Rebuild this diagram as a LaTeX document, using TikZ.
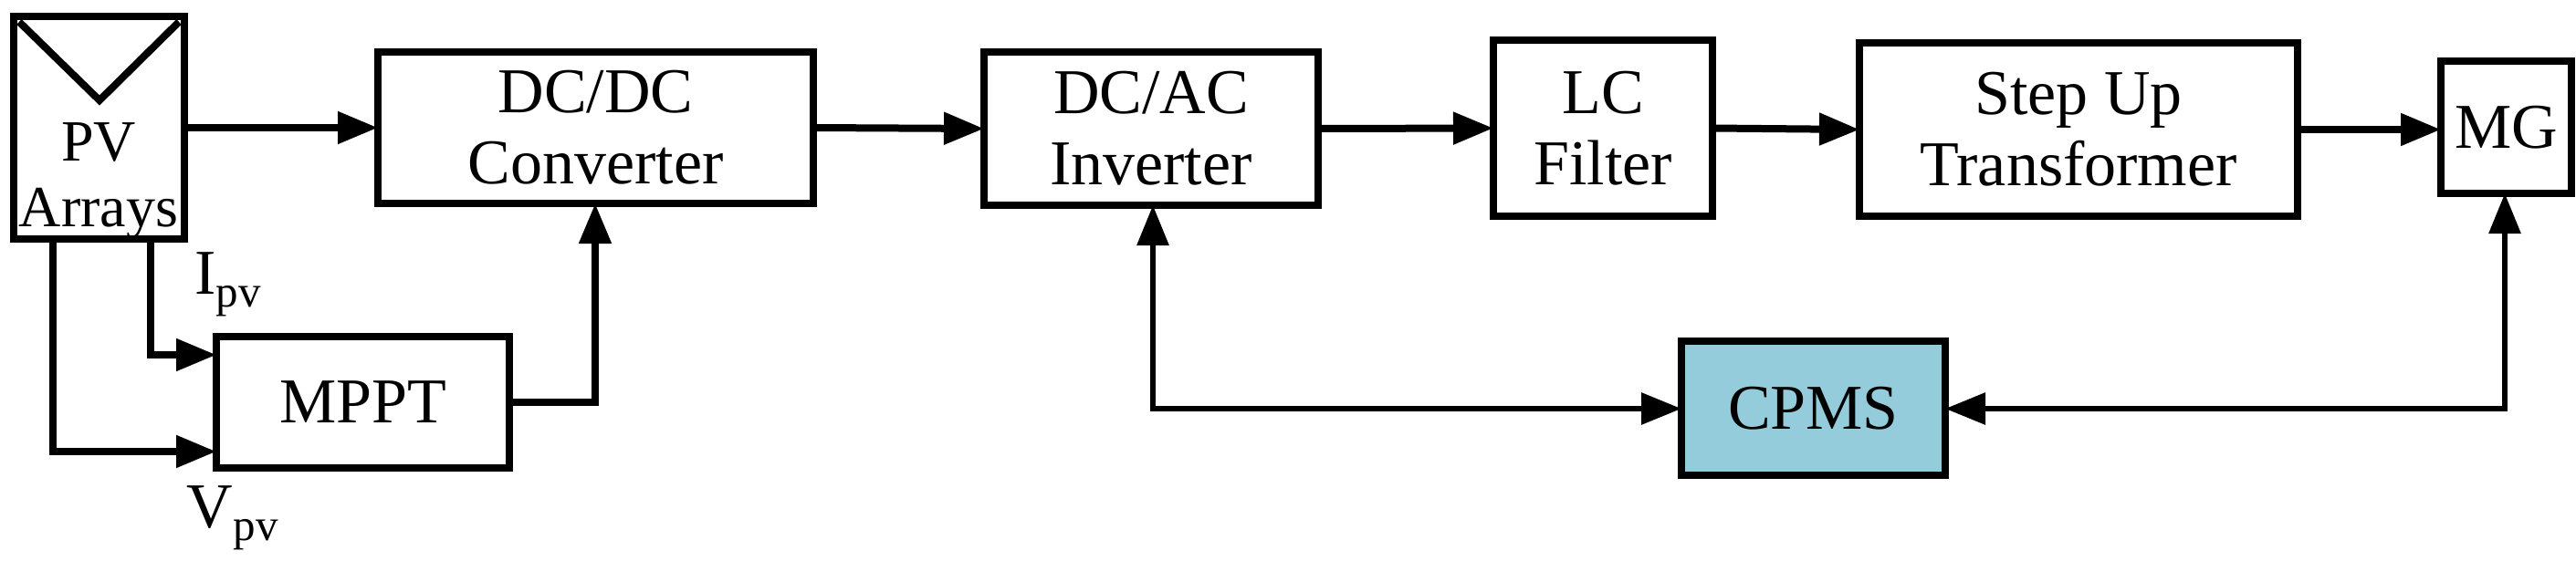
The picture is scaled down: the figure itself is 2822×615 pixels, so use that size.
\documentclass[tikz,border=0pt]{standalone}
\usepackage{fontspec}
\setmainfont{Liberation Serif}
\usetikzlibrary{arrows.meta}
\definecolor{cpms}{HTML}{94CCDB}
\begin{document}
\begin{tikzpicture}[x=1pt,y=-1pt,
  box/.style={draw,line width=8pt,inner sep=0,outer sep=0,anchor=north west,align=center,
    font=\fontsize{70}{78}\selectfont},
  arr/.style={line width=8pt,-{Triangle[length=44pt,width=34pt]}},
  darr/.style={line width=6pt,{Triangle[length=44pt,width=34pt]}-{Triangle[length=44pt,width=34pt]}},
  lab/.style={font=\fontsize{70}{78}\selectfont,inner sep=0}]
\useasboundingbox (0,0) rectangle (2822,615);
\node[box,minimum width=187pt,minimum height=244pt] (PV) at (15,18) {};
\draw[line width=8pt,line join=miter] (PV.north west) ++(6,6) -- (109,110) -- (196,24);
\node[lab,align=center,font=\fontsize{64}{72}\selectfont] (PVt) at (108,198) {PV\\Arrays};
\node[box,minimum width=477pt,minimum height=166pt] (DCDC) at (414,57) {DC/DC\\Converter};
\node[box,minimum width=321pt,minimum height=144pt] (MPPT) at (237,369) {MPPT};
\node[box,minimum width=366pt,minimum height=168pt] (INV) at (1078,57) {DC/AC\\Inverter};
\node[box,minimum width=240pt,minimum height=193pt] (LC) at (1636,44) {LC\\Filter};
\node[box,minimum width=480pt,minimum height=190pt] (SU) at (2037,47) {Step Up\\Transformer};
\node[box,minimum width=143pt,minimum height=145pt] (MG) at (2674,67) {MG};
\node[box,fill=cpms,minimum width=289pt,minimum height=147pt] (CPMS) at (1842,374) {CPMS};
\draw[arr] (PV.east) -- (DCDC.west);
\draw[arr] (DCDC.east) -- (INV.west);
\draw[arr] (INV.east) -- (LC.west);
\draw[arr] (LC.east) -- (SU.west);
\draw[arr] (SU.east) -- (MG.west |- SU.east);
\coordinate (ip) at (165,262);
\coordinate (vp) at (58,262);
\draw[arr] (ip) |- (MPPT.west |- 0,389);
\draw[arr] (vp) |- (MPPT.west |- 0,495);
\draw[arr] (MPPT.east |- 0,441) -| (652,223);
\draw[darr] (INV.south -| 1263,0) |- (CPMS.west |- 0,448);
\draw[darr] (MG.south -| 2744,0) |- (CPMS.east |- 0,448);
\node[lab] (ipv) at (250,312) {I\textsubscript{pv}};
\node[lab] (vpv) at (255,568) {V\textsubscript{pv}};
\end{tikzpicture}
\end{document}
